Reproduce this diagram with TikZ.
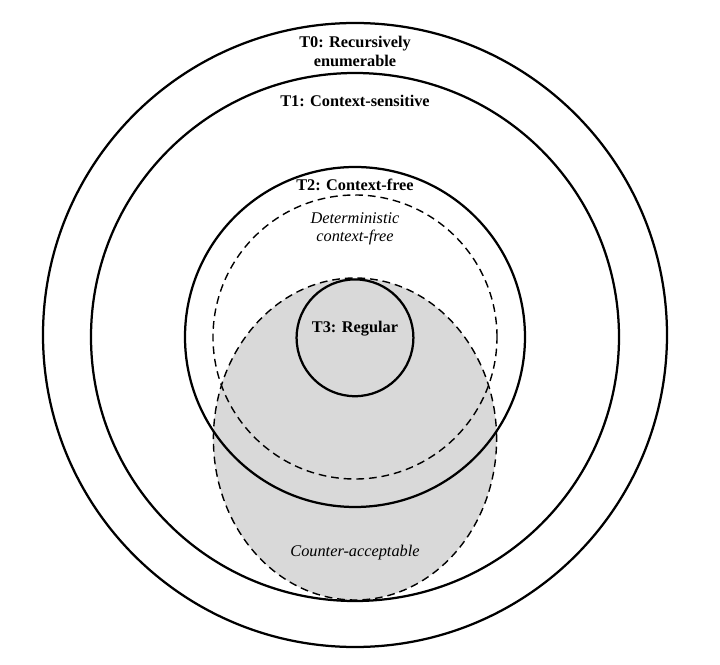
\documentclass[tikz,border=0pt]{standalone}
\usepackage{fontspec}
\setmainfont{Liberation Serif}
\usepackage{tikz}
\usetikzlibrary{positioning}
\tikzset{
    langclass/.style={draw, line width=1.6pt},
    subclass/.style={draw, line width=1pt, dash pattern=on 5.5pt off 3.5pt},
    classname/.style={font=\fontsize{11.6}{13.5}\selectfont\bfseries, align=center, inner sep=1pt},
    subname/.style={font=\fontsize{11.6}{12.8}\selectfont\itshape, align=center, inner sep=1pt}
}
\begin{document}
\begin{tikzpicture}
        \useasboundingbox (-8.875,-8.2) rectangle (9.125,8.425);
        
        % Counter-acceptable (shaded, behind everything)
        \draw[subclass, fill=black!15] (0,-2.55) ellipse [x radius=3.54, y radius=4.025];
        
        % Chomsky hierarchy
        \draw[langclass] (0,0.05) circle (7.8);
        \draw[langclass] (0,0) circle (6.6);
        \draw[langclass] (0,0) circle (4.25);
        \draw[subclass] (0,0) circle (3.55);
        \draw[langclass] (0,-0.02) circle (1.46);
        
        % Labels
        \node[classname] (T0_label) at (0,7.14) {T0: Recursively\\enumerable};
        \node[classname] (T1_label) at (0,5.9) {T1: Context-sensitive};
        \node[classname] (T2_label) at (0,3.8) {T2: Context-free};
        \node[subname] (DCF_label) [below=0.45cm of T2_label] {Deterministic\\context-free};
        \node[classname] (T3_label) at (0,0.2) {T3: Regular};
        \node[subname] (CA_label) at (0,-5.4) {Counter-acceptable};
    \end{tikzpicture}
\end{document}
